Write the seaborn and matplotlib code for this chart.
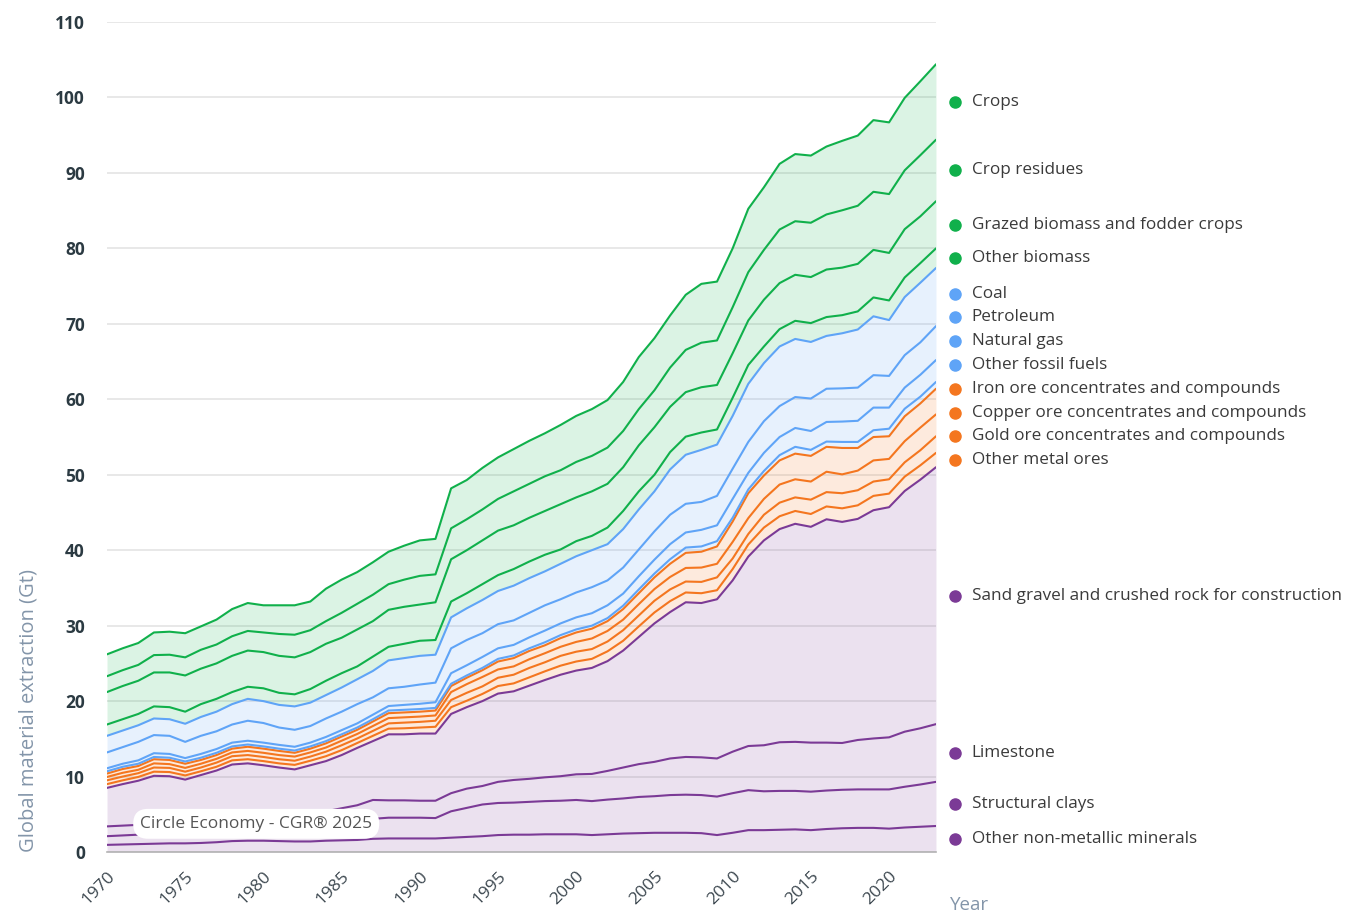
import numpy as np
import pandas as pd
import matplotlib
matplotlib.use("Agg")
import matplotlib.pyplot as plt
import matplotlib.transforms as mtransforms
import seaborn as sns

years = list(range(1970, 2024))

# Gt per year, 1970-2023
other_nonmetallic = [0.95, 1.0, 1.05, 1.1, 1.15, 1.15, 1.2, 1.3, 1.45, 1.5,
                     1.5, 1.45, 1.4, 1.4, 1.5, 1.55, 1.6, 1.75, 1.8, 1.8,
                     1.8, 1.8, 1.9, 2.0, 2.1, 2.25, 2.3, 2.3, 2.35, 2.35,
                     2.35, 2.25, 2.35, 2.45, 2.5, 2.55, 2.55, 2.55, 2.5, 2.25,
                     2.55, 2.9, 2.9, 2.95, 3.0, 2.9, 3.05, 3.15, 3.2, 3.2,
                     3.1, 3.25, 3.35, 3.45]
structural_clays = [1.15, 1.2, 1.25, 1.4, 1.45, 1.45, 1.6, 1.6, 1.65, 1.7,
                    1.8, 1.85, 2.0, 2.2, 2.3, 2.45, 2.6, 2.65, 2.75, 2.75,
                    2.75, 2.7, 3.5, 3.85, 4.2, 4.25, 4.25, 4.35, 4.4, 4.45,
                    4.55, 4.5, 4.6, 4.65, 4.8, 4.85, 5.0, 5.05, 5.05, 5.1,
                    5.25, 5.3, 5.15, 5.15, 5.1, 5.1, 5.1, 5.1, 5.1, 5.1,
                    5.2, 5.4, 5.6, 5.85]
limestone = [1.3, 1.3, 1.3, 1.3, 1.3, 1.3, 1.3, 1.4, 1.4, 1.4,
             1.3, 1.3, 1.3, 1.4, 1.6, 1.8, 2.0, 2.5, 2.3, 2.3,
             2.25, 2.3, 2.4, 2.55, 2.45, 2.8, 3.0, 3.05, 3.15, 3.25,
             3.4, 3.6, 3.8, 4.1, 4.35, 4.55, 4.85, 5.0, 5.0, 5.05,
             5.5, 5.85, 6.1, 6.45, 6.5, 6.5, 6.35, 6.2, 6.55, 6.75,
             6.9, 7.3, 7.45, 7.65]
sand_gravel = [5.1, 5.5, 5.85, 6.3, 6.15, 5.7, 6.1, 6.5, 7.1, 7.15,
               6.9, 6.6, 6.25, 6.5, 6.65, 7.05, 7.6, 7.8, 8.75, 8.75,
               8.9, 8.9, 10.5, 10.8, 11.25, 11.7, 11.75, 12.35, 12.9, 13.45,
               13.75, 14.05, 14.55, 15.5, 16.85, 18.35, 19.4, 20.5, 20.45, 21.1,
               22.7, 25.1, 27.15, 28.25, 28.9, 28.6, 29.6, 29.3, 29.3, 30.25,
               30.5, 31.9, 32.95, 34.05]
other_metal = [0.5, 0.5, 0.5, 0.55, 0.55, 0.55, 0.5, 0.5, 0.55, 0.55,
               0.55, 0.55, 0.6, 0.6, 0.65, 0.65, 0.65, 0.7, 0.75, 0.8,
               0.8, 0.9, 0.9, 0.85, 0.95, 1.0, 1.05, 1.1, 1.15, 1.2,
               1.2, 1.2, 1.3, 1.3, 1.4, 1.45, 1.45, 1.3, 1.3, 1.2,
               1.5, 1.6, 1.7, 1.7, 1.7, 1.7, 1.7, 1.8, 1.8, 1.9,
               1.8, 1.9, 1.9, 1.9]
gold_ore = [0.5, 0.5, 0.5, 0.55, 0.55, 0.5, 0.5, 0.55, 0.55, 0.55,
            0.55, 0.55, 0.55, 0.55, 0.6, 0.65, 0.6, 0.65, 0.7, 0.75,
            0.75, 0.8, 0.95, 1.05, 1.0, 1.1, 1.15, 1.25, 1.2, 1.3,
            1.3, 1.3, 1.3, 1.4, 1.45, 1.55, 1.55, 1.45, 1.5, 1.7,
            1.4, 1.4, 1.7, 1.8, 1.8, 1.9, 1.9, 2.0, 2.0, 1.9,
            1.9, 1.9, 2.0, 2.2]
copper_ore = [0.45, 0.5, 0.45, 0.55, 0.5, 0.5, 0.5, 0.5, 0.5, 0.55,
              0.55, 0.55, 0.55, 0.55, 0.55, 0.6, 0.6, 0.65, 0.7, 0.7,
              0.7, 0.7, 1.05, 1.15, 1.25, 1.1, 1.1, 1.15, 1.2, 1.2,
              1.3, 1.4, 1.4, 1.4, 1.5, 1.55, 1.65, 1.8, 1.9, 1.8,
              2.2, 2.1, 2.1, 2.4, 2.4, 2.4, 2.7, 2.5, 2.6, 2.8,
              2.7, 2.8, 3.0, 2.9]
iron_ore = [0.45, 0.5, 0.5, 0.55, 0.55, 0.55, 0.5, 0.5, 0.5, 0.55,
            0.55, 0.55, 0.5, 0.5, 0.55, 0.55, 0.55, 0.6, 0.65, 0.65,
            0.65, 0.65, 0.8, 0.85, 0.9, 1.05, 1.1, 1.1, 1.05, 1.15,
            1.25, 1.3, 1.3, 1.4, 1.45, 1.55, 1.75, 2.0, 2.1, 2.3,
            2.7, 3.3, 3.1, 3.2, 3.4, 3.4, 3.3, 3.5, 3.0, 3.1,
            3.0, 3.3, 3.2, 3.4]
other_fossil = [0.3, 0.3, 0.3, 0.3, 0.3, 0.3, 0.3, 0.3, 0.3, 0.3,
                0.3, 0.3, 0.3, 0.3, 0.3, 0.3, 0.3, 0.3, 0.35, 0.35,
                0.35, 0.35, 0.3, 0.3, 0.3, 0.35, 0.35, 0.35, 0.4, 0.4,
                0.4, 0.4, 0.4, 0.45, 0.5, 0.5, 0.6, 0.7, 0.7, 0.7,
                0.5, 0.5, 0.6, 0.7, 0.9, 0.8, 0.7, 0.8, 0.8, 0.9,
                1.0, 1.0, 0.9, 0.9]
natural_gas = [0.4, 0.4, 0.45, 0.5, 0.5, 0.45, 0.5, 0.5, 0.5, 0.5,
               0.5, 0.5, 0.5, 0.5, 0.55, 0.55, 0.55, 0.6, 0.6, 0.65,
               0.7, 0.75, 1.4, 1.35, 1.45, 1.4, 1.4, 1.45, 1.55, 1.55,
               1.6, 1.65, 1.7, 1.6, 1.75, 1.85, 2.0, 2.0, 2.2, 2.1,
               2.5, 2.2, 2.4, 2.4, 2.5, 2.5, 2.6, 2.7, 2.8, 3.0,
               2.8, 2.8, 2.9, 2.9]
petroleum = [2.1, 2.2, 2.45, 2.4, 2.4, 2.15, 2.4, 2.35, 2.4, 2.65,
             2.6, 2.3, 2.25, 2.2, 2.45, 2.45, 2.55, 2.3, 2.35, 2.4,
             2.55, 2.6, 3.3, 3.35, 3.15, 3.2, 3.25, 3.25, 3.35, 3.2,
             3.3, 3.45, 3.3, 3.45, 3.55, 3.75, 3.9, 3.8, 3.7, 3.9,
             4.0, 4.1, 4.2, 4.1, 4.1, 4.3, 4.4, 4.4, 4.4, 4.3,
             4.2, 4.3, 4.3, 4.5]
coal = [2.2, 2.2, 2.2, 2.2, 2.2, 2.4, 2.5, 2.6, 2.7, 2.9,
        2.9, 3.0, 3.1, 3.1, 3.1, 3.2, 3.3, 3.5, 3.7, 3.8,
        3.8, 3.7, 4.1, 4.2, 4.4, 4.4, 4.6, 4.6, 4.5, 4.7,
        4.8, 4.9, 4.8, 5.1, 5.3, 5.3, 6.0, 6.5, 6.9, 6.8,
        7.0, 7.7, 7.7, 7.9, 7.7, 7.5, 7.0, 7.3, 7.7, 7.8,
        7.4, 7.7, 7.9, 7.7]
other_biomass = [1.5, 1.5, 1.5, 1.6, 1.6, 1.6, 1.7, 1.7, 1.6, 1.6,
                 1.7, 1.6, 1.6, 1.8, 1.9, 1.9, 1.7, 1.9, 1.8, 1.9,
                 2.0, 1.95, 2.1, 2.0, 2.1, 2.1, 2.2, 2.2, 2.2, 1.9,
                 2.0, 1.9, 2.2, 2.4, 2.4, 2.2, 2.3, 2.4, 2.3, 2.0,
                 2.4, 2.5, 2.2, 2.3, 2.4, 2.5, 2.5, 2.4, 2.4, 2.5,
                 2.6, 2.6, 2.6, 2.6]
grazed_biomass = [4.3, 4.4, 4.4, 4.5, 4.6, 4.8, 4.7, 4.7, 4.8, 4.8,
                  4.8, 4.9, 4.9, 4.9, 4.9, 4.7, 4.9, 4.7, 4.9, 4.9,
                  4.8, 5.0, 5.6, 5.7, 5.8, 5.9, 5.8, 5.8, 5.8, 6.0,
                  5.8, 5.9, 5.8, 5.8, 6.1, 6.3, 6.0, 5.9, 6.0, 5.9,
                  5.9, 5.9, 6.2, 6.1, 6.1, 6.1, 6.3, 6.3, 6.3, 6.3,
                  6.3, 6.4, 6.2, 6.25]
crop_residues = [2.1, 2.1, 2.1, 2.3, 2.35, 2.4, 2.5, 2.5, 2.6, 2.6,
                 2.6, 2.9, 3.0, 2.9, 3.0, 3.3, 3.4, 3.5, 3.4, 3.6,
                 3.8, 3.7, 4.1, 4.1, 4.1, 4.2, 4.5, 4.5, 4.6, 4.5,
                 4.7, 4.7, 4.8, 4.8, 4.8, 4.9, 5.2, 5.6, 5.9, 5.9,
                 6.1, 6.4, 6.6, 7.1, 7.1, 7.2, 7.3, 7.6, 7.7, 7.7,
                 7.8, 7.8, 8.1, 8.15]
crops = [2.9, 2.9, 2.9, 3.0, 3.05, 3.2, 3.1, 3.3, 3.6, 3.7,
         3.6, 3.8, 3.9, 3.8, 4.3, 4.4, 4.2, 4.3, 4.3, 4.5,
         4.7, 4.7, 5.3, 5.2, 5.5, 5.5, 5.6, 5.7, 5.7, 6.0,
         6.1, 6.2, 6.3, 6.5, 6.9, 6.9, 6.9, 7.3, 7.8, 7.8,
         7.8, 8.4, 8.3, 8.7, 8.9, 8.9, 9.0, 9.2, 9.3, 9.5,
         9.5, 9.6, 9.8, 10.0]

# stacking order, bottom to top
series = [
    ("Other non-metallic minerals", other_nonmetallic, "minerals"),
    ("Structural clays", structural_clays, "minerals"),
    ("Limestone", limestone, "minerals"),
    ("Sand gravel and crushed rock for construction", sand_gravel, "minerals"),
    ("Other metal ores", other_metal, "metals"),
    ("Gold ore concentrates and compounds", gold_ore, "metals"),
    ("Copper ore concentrates and compounds", copper_ore, "metals"),
    ("Iron ore concentrates and compounds", iron_ore, "metals"),
    ("Other fossil fuels", other_fossil, "fossil"),
    ("Natural gas", natural_gas, "fossil"),
    ("Petroleum", petroleum, "fossil"),
    ("Coal", coal, "fossil"),
    ("Other biomass", other_biomass, "biomass"),
    ("Grazed biomass and fodder crops", grazed_biomass, "biomass"),
    ("Crop residues", crop_residues, "biomass"),
    ("Crops", crops, "biomass"),
]

group_colors = {
    "minerals": "#7b3a96",
    "metals": "#f4761f",
    "fossil": "#5fa4f7",
    "biomass": "#10b04b",
}

names = [s[0] for s in series]
wide = pd.DataFrame({s[0]: s[1] for s in series}, index=years)
tops = wide.cumsum(axis=1)
bottoms = tops.shift(1, axis=1).fillna(0)

long = tops.reset_index(names="year").melt(id_vars="year", var_name="series", value_name="top")
palette = {s[0]: group_colors[s[2]] for s in series}

sns.set_theme(style="white")
plt.rcParams["font.family"] = ["Open Sans", "DejaVu Sans"]

fig = plt.figure(figsize=(13.7, 9.14), dpi=100)
ax = fig.add_axes([0.0781, 0.0678, 0.6051, 0.9081])

# grid under everything
ax.set_axisbelow(True)
ax.yaxis.grid(True, color="#e2e2e2", linewidth=1.1)
ax.xaxis.grid(False)

for name, _, grp in series:
    ax.fill_between(years, bottoms[name], tops[name], color=group_colors[grp],
                    alpha=0.15, linewidth=0, zorder=1)

sns.lineplot(data=long, x="year", y="top", hue="series", hue_order=names,
             palette=palette, linewidth=1.5, legend=False, ax=ax, zorder=3)

ax.set_xlim(1970, 2023)
ax.set_ylim(0, 110)
ax.set_yticks(range(0, 111, 10))
ax.set_xticks(range(1970, 2021, 5))

for sp in ["top", "right", "left"]:
    ax.spines[sp].set_visible(False)
ax.spines["bottom"].set_color("#b4b4b4")
ax.spines["bottom"].set_linewidth(1.2)

ax.tick_params(axis="y", length=0, pad=16, labelsize=12.5, labelcolor="#2b3a42")
for lab in ax.get_yticklabels():
    lab.set_fontweight("bold")
ax.tick_params(axis="x", length=0, pad=12, labelsize=12.5, labelcolor="#3d4850")
for lab in ax.get_xticklabels():
    lab.set_rotation(45)
    lab.set_ha("right")
    lab.set_rotation_mode("anchor")

ax.set_xlabel("")
ax.set_ylabel("Global material extraction (Gt)", loc="bottom", fontsize=14.5,
              color="#8395a9", labelpad=12)
ax.text(1.017, -0.064, "Year", transform=ax.transAxes, ha="left", va="center",
        fontsize=13.5, color="#8395a9")

# watermark
ax.text(0.18, 0.034, "Circle Economy - CGR\u00ae 2025", transform=ax.transAxes,
        ha="center", va="center", fontsize=12.5, color="#555555", zorder=5,
        bbox=dict(boxstyle="round,pad=0.4,rounding_size=0.85", fc="white", ec="none"))


# right-hand labels: band midpoints of the last year, pushed up from the bottom
def push_up(targets, gap):
    order = list(np.argsort(targets))
    pos = {}
    prev = None
    for i in order:
        p = targets[i] if prev is None else max(targets[i], prev + gap)
        pos[i] = p
        prev = p
    return [pos[i] for i in range(len(targets))]


last = years[-1]
mids = [(bottoms.loc[last, n] + tops.loc[last, n]) / 2 for n in names]
label_y = push_up(mids, 3.15)

trans = mtransforms.blended_transform_factory(ax.transAxes, ax.transData)
for (name, _, grp), yv in zip(series, label_y):
    ax.plot([1.023], [yv], marker="o", markersize=8, color=group_colors[grp],
            transform=trans, clip_on=False, linestyle="none")
    ax.text(1.043, yv, name, transform=trans, ha="left", va="center",
            fontsize=12.3, color="#3a3a3a")

fig.savefig("out.png", dpi=100)
